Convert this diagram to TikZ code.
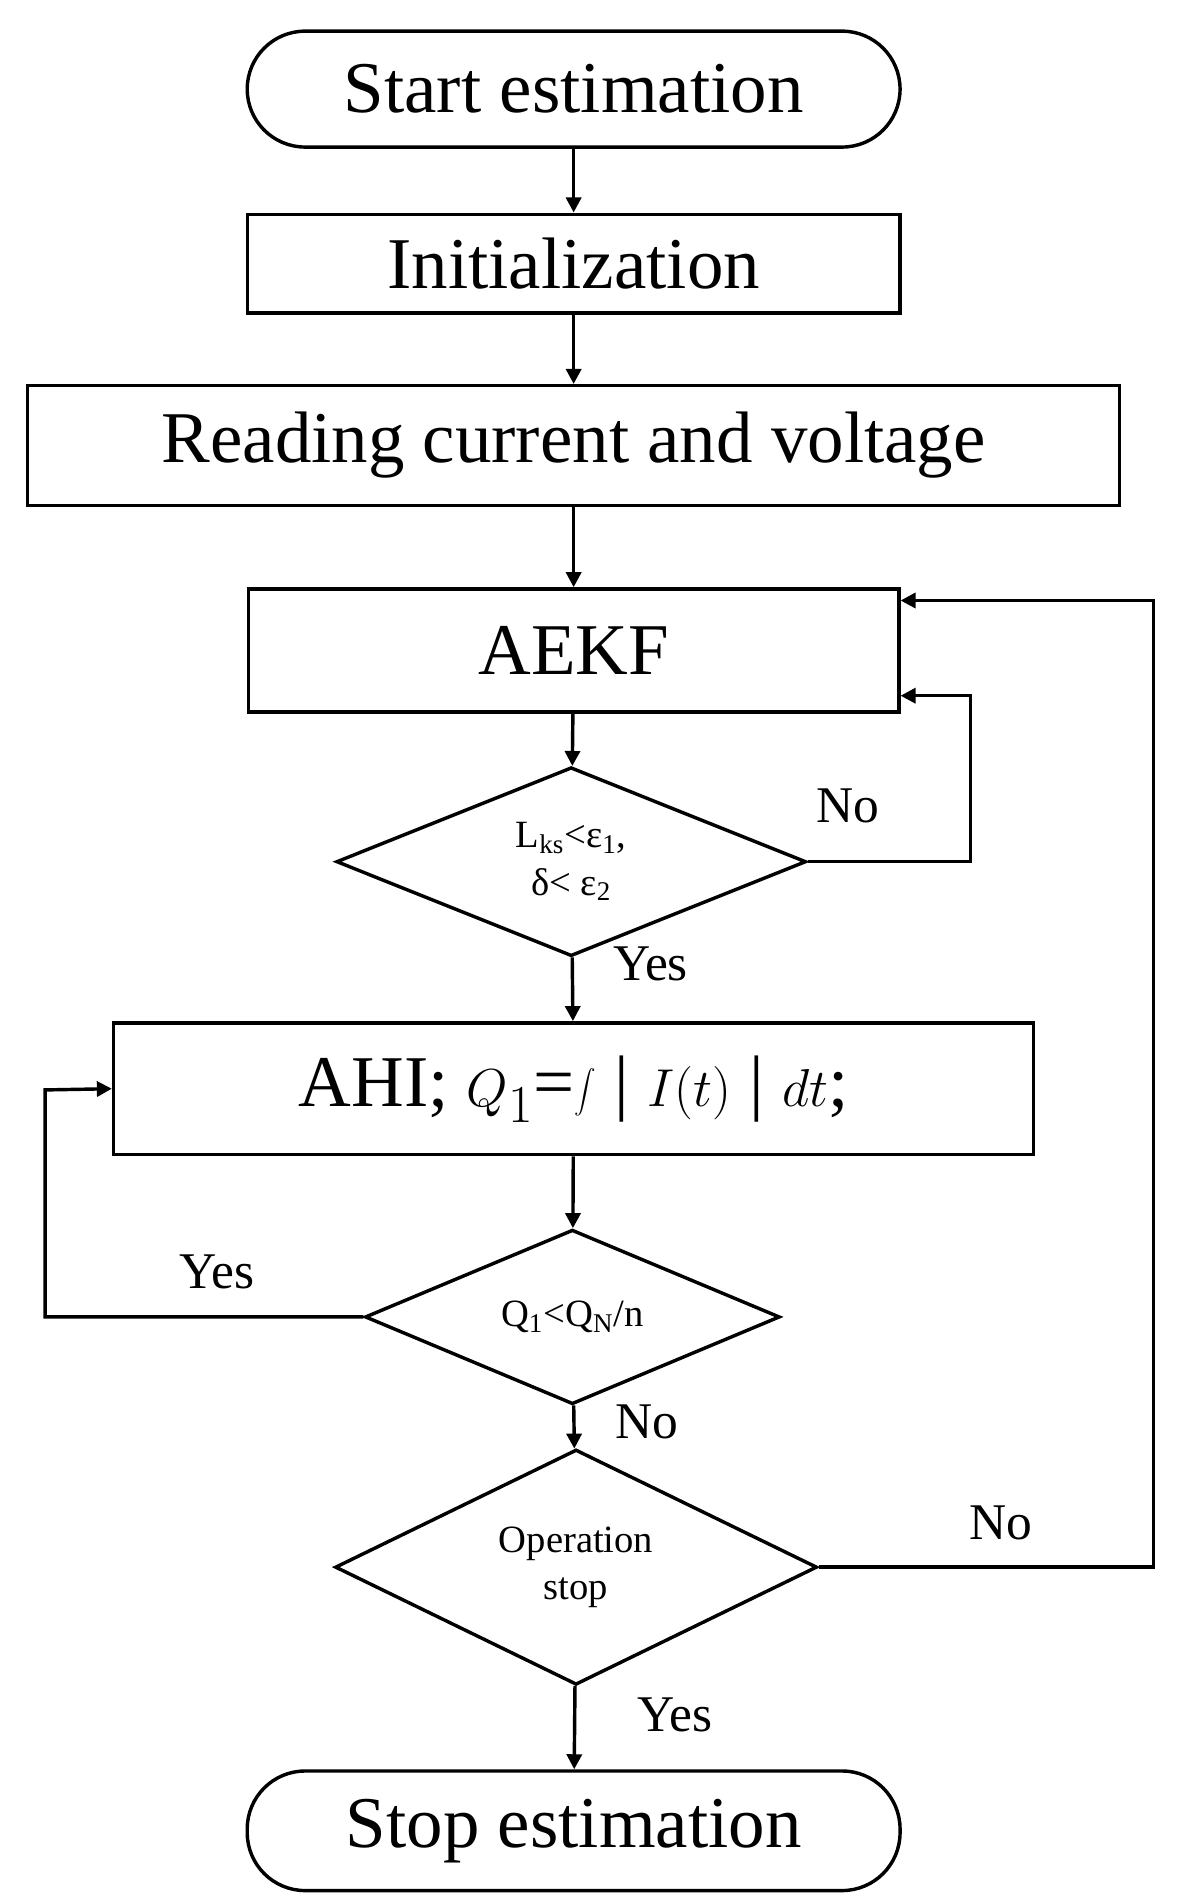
\documentclass[tikz,border=0pt]{standalone}
\usepackage{fontspec}
\setmainfont{Liberation Serif}
\usetikzlibrary{shapes.geometric,arrows.meta}
\begin{document}
\begin{tikzpicture}[x=0.02cm,y=-0.02cm,
  box/.style={draw,line width=1.6pt,rectangle,inner sep=0pt,font=\fontsize{34}{38}\selectfont},
  term/.style={draw,line width=1.6pt,rectangle,rounded corners=0.95cm,inner sep=0pt,font=\fontsize{34}{38}\selectfont},
  dia/.style={draw,line width=1.6pt,diamond,inner sep=0pt,font=\fontsize{18}{22}\selectfont,align=center},
  lab/.style={font=\fontsize{24}{28}\selectfont},
  arr/.style={line width=1.6pt,-{Triangle[length=7pt,width=7pt]}}]
\useasboundingbox (0,0) rectangle (975,1560);
\node[term,minimum width=10.7cm,minimum height=1.9cm] (start) at (470,73) {Start estimation};
\node[box,minimum width=10.7cm,minimum height=1.62cm] (init) at (470,216) {Initialization};
\node[box,minimum width=17.9cm,minimum height=1.96cm] (read) at (470,365) {Reading current and voltage};
\node[box,minimum width=10.66cm,minimum height=2.02cm] (aekf) at (470,533) {AEKF};
\node[dia,minimum width=7.7cm,minimum height=2.56cm] (d1) at (468,706) {L\textsubscript{ks}<ε\textsubscript{1},\\ δ< ε\textsubscript{2}};
\node[box,minimum width=15.08cm,minimum height=2.16cm] (ahi) at (470,892) {AHI; $Q_1$=$\displaystyle\int$ | $I(t)$ | $dt$;};
\node[dia,minimum width=6.8cm,minimum height=1.9cm] (d2) at (469,1079) {Q\textsubscript{1}<Q\textsubscript{N}/n};
\node[dia,minimum width=7.9cm,minimum height=3.1cm] (d3) at (472,1284) {Operation\\ stop};
\node[term,minimum width=10.7cm,minimum height=1.96cm] (stop) at (470,1500) {Stop estimation};
\draw[arr] (start) -- (init);
\draw[arr] (init) -- (read);
\draw[arr] (read) -- (aekf);
\draw[arr] (aekf) -- (d1);
\draw[arr] (d1) -- (ahi);
\draw[arr] (ahi) -- (d2);
\draw[arr] (d2) -- (d3);
\draw[arr] (d3) -- (stop);
\coordinate (a1) at (795,706); \coordinate (a2) at (795,570); \coordinate (t1) at (aekf.east |- a2);
\draw[arr] (d1.east) -- (a1) -- (a2) -- (t1);
\coordinate (b1) at (945,1284); \coordinate (b2) at (945,492); \coordinate (t2) at (aekf.east |- b2);
\draw[arr] (d3.east) -- (b1) -- (b2) -- (t2);
\coordinate (c1) at (37,1079); \coordinate (c2) at (37,893);
\draw[arr] (d2.west) -- (c1) -- (c2) -- (ahi.west);
\node[lab] (l1) at (695,660) {No};
\node[lab] (l2) at (533,790) {Yes};
\node[lab] (l3) at (178,1042) {Yes};
\node[lab] (l4) at (530,1165) {No};
\node[lab] (l5) at (820,1248) {No};
\node[lab] (l6) at (553,1405) {Yes};
\end{tikzpicture}
\end{document}
